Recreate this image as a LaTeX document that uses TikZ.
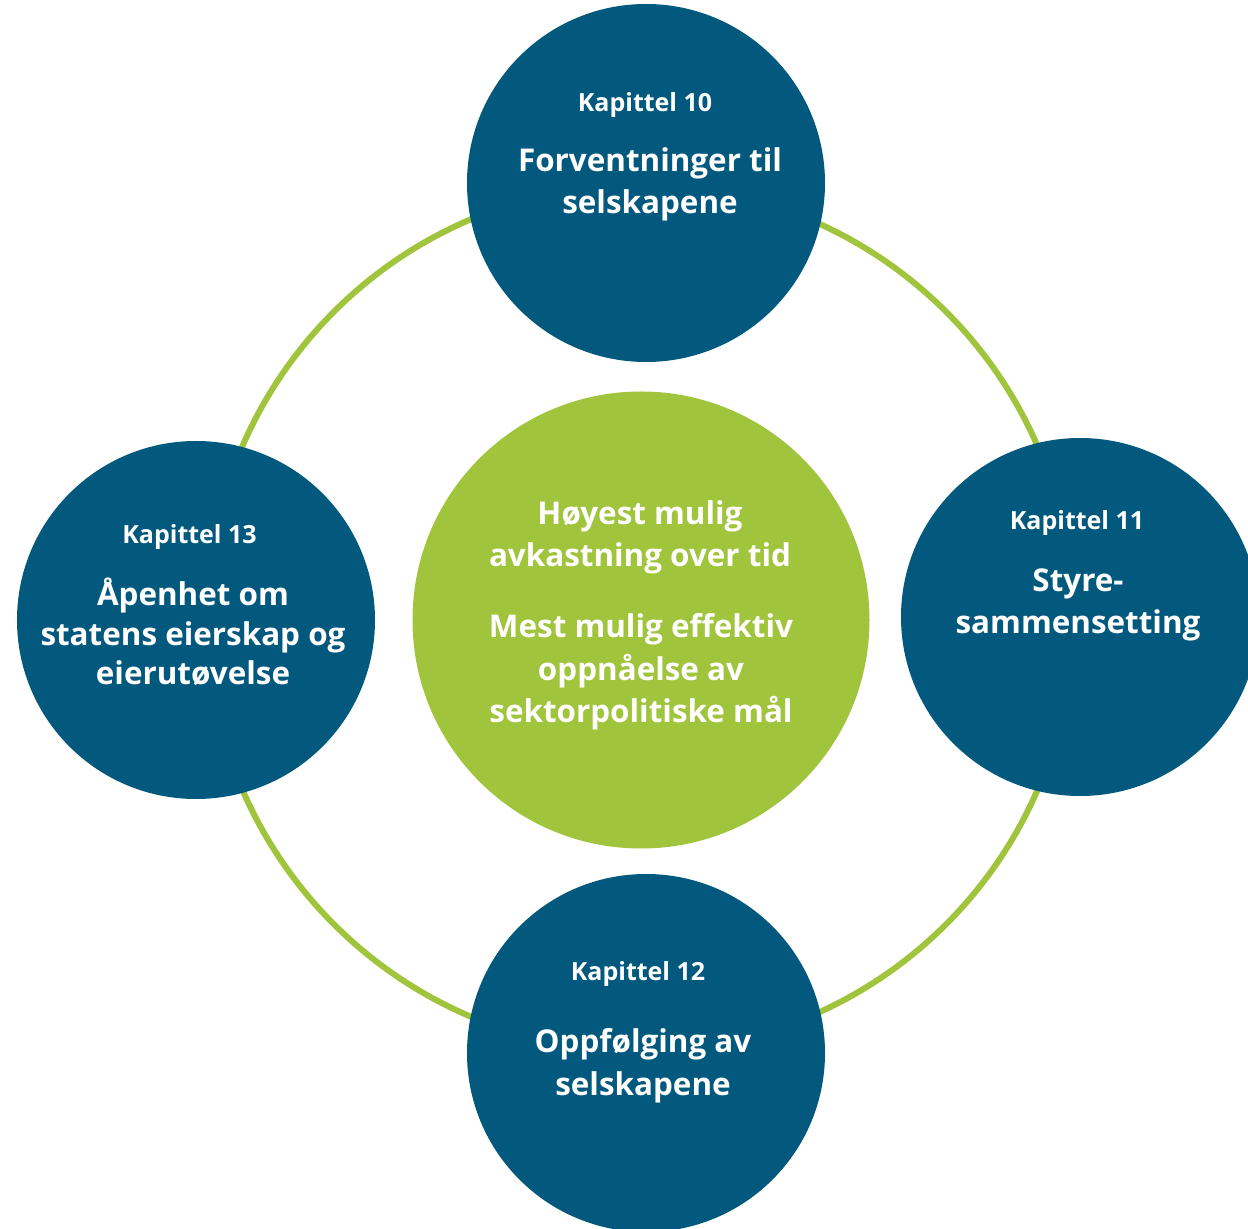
\documentclass[tikz,border=0pt]{standalone}
\usepackage{fontspec}
\setmainfont{Open Sans}
\usetikzlibrary{positioning}
\definecolor{eierblaa}{RGB}{3,89,125}
\definecolor{eiergroenn}{RGB}{160,196,60}
\tikzset{
  satellitt/.style={circle,fill=eierblaa,minimum size=179pt,inner sep=0pt},
  kjerne/.style={circle,fill=eiergroenn,minimum size=228.5pt,inner sep=0pt},
  kapittel/.style={text=white,anchor=base,inner sep=0pt,
    font=\bfseries\fontsize{12.5}{15}\selectfont},
  tema/.style={text=white,align=center,anchor=base,inner sep=0pt,
    font=\bfseries\fontsize{15.7}{21.3}\selectfont},
  ring/.style={draw=eiergroenn,line width=3pt}
}

\begin{document}
\begin{tikzpicture}[x=0.5pt,y=-0.5pt]
  \useasboundingbox (0,0) rectangle (1248,1229);

  % ringen bak sirklene
  \coordinate (midt) at (640,618);
  \draw[ring] (midt) circle[radius=216.5pt];

  \node[satellitt] (s10) at (646,183) {};
  \node[satellitt] (s11) at (1080,617) {};
  \node[satellitt] (s12) at (646,1053) {};
  \node[satellitt] (s13) at (196,620) {};
  \node[kjerne] (maal) at (641,620) {};

  % kapittel 10
  \node[kapittel] (k10) at (645,111.7) {Kapittel 10};
  \node[tema] (t10) at (650,214) {Forventninger til\\selskapene};

  % kapittel 11
  \node[kapittel] (k11) at (1077,530) {Kapittel 11};
  \node[tema] (t11) at (1078,634) {Styre-\\sammensetting};

  % kapittel 12
  \node[kapittel] (k12) at (638,980.7) {Kapittel 12};
  \node[tema] (t12) at (643,1095) {Oppfølging av\\selskapene};

  % kapittel 13
  \node[kapittel] (k13) at (189.5,543.3) {Kapittel 13};
  \node[tema,font=\bfseries\fontsize{15.7}{19.8}\selectfont] (t13) at (193,685)
    {Åpenhet om\\statens eierskap og\\eierutøvelse};

  % midten
  \node[tema] (m1) at (640,566.7) {Høyest mulig\\avkastning over tid};
  \node[tema] (m2) at (641,723) {Mest mulig effektiv\\oppnåelse av\\sektorpolitiske mål};
\end{tikzpicture}
\end{document}
